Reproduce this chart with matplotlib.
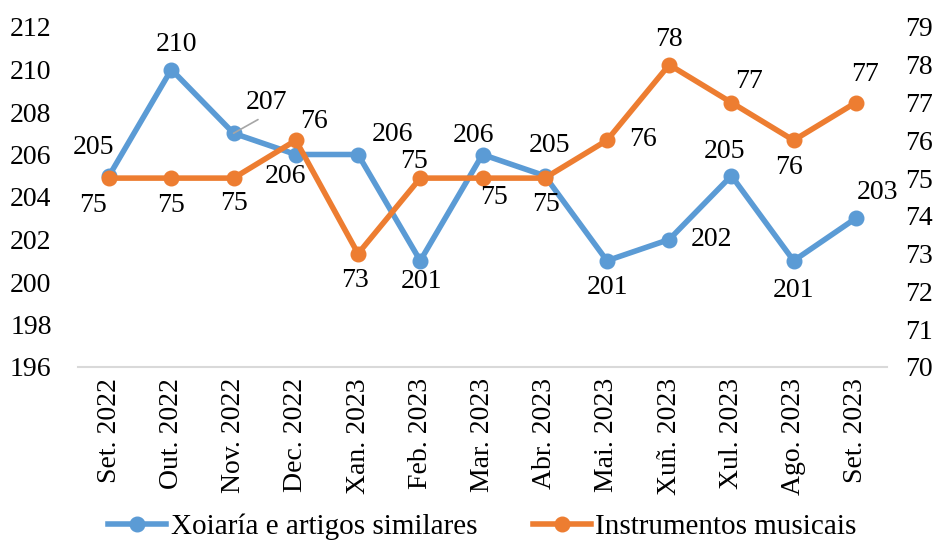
import matplotlib
matplotlib.use("Agg")
import matplotlib.pyplot as plt

plt.rcParams['font.family'] = ['Liberation Serif', 'DejaVu Serif']

months = ["Set. 2022", "Out. 2022", "Nov. 2022", "Dec. 2022", "Xan. 2023", "Feb. 2023",
          "Mar. 2023", "Abr. 2023", "Mai. 2023", "Xuñ. 2023", "Xul. 2023", "Ago. 2023",
          "Set. 2023"]
xoiaria = [205, 210, 207, 206, 206, 201, 206, 205, 201, 202, 205, 201, 203]
instrumentos = [75, 75, 75, 76, 73, 75, 75, 75, 76, 78, 77, 76, 77]

# label offsets in pixels (dx, dy), tuned by eye
off_x = [(-16, 28), (5, 25), (33, 31), (-10, -22), (34, 20), (1, -21), (-9, 19),
         (5, 30), (1, -27), (42, 0), (-7, 24), (0, -30), (22, 26)]
off_i = [(-16, -27), (0, -27), (0, -25), (18, 19), (-3, -27), (-6, 17), (11, -19),
         (1, -26), (36, 1), (0, 25), (18, 21), (-5, -27), (9, 28)]

blue = '#5B9BD5'
orange = '#ED7D31'
fs = 20

fig = plt.figure(figsize=(9.39, 5.54), dpi=100)
ax = fig.add_axes([78/939, 1 - 367/554, (887-78)/939, (367-27)/554])
ax2 = ax.twinx()

x = list(range(len(months)))
l1, = ax.plot(x, xoiaria, color=blue, lw=4, marker='o', ms=10.5, zorder=3,
              label='Xoiaría e artigos similares')
l2, = ax2.plot(x, instrumentos, color=orange, lw=4, marker='o', ms=10.5, zorder=3,
               label='Instrumentos musicais')

ax.set_xlim(-0.5, len(months) - 0.5)
ax.set_ylim(196, 212)
ax.set_yticks(range(196, 213, 2))
ax2.set_ylim(70, 79)
ax2.set_yticks(range(70, 80))

for a in (ax, ax2):
    for s in a.spines.values():
        s.set_visible(False)
ax.spines['bottom'].set_visible(True)
ax.spines['bottom'].set_color('#D9D9D9')
ax.spines['bottom'].set_linewidth(1.5)

ax.tick_params(axis='y', length=0, pad=19, labelsize=fs)
ax2.tick_params(axis='y', length=0, pad=13, labelsize=fs)
ax.set_xticks(x)
ax.set_xticklabels(months, rotation=90, fontsize=fs)
ax.tick_params(axis='x', length=0, pad=8)

for i, v in enumerate(xoiaria):
    if i == 2:
        ax.annotate(str(v), (i, v), xytext=off_x[i], textcoords='offset pixels',
                    ha='center', va='center', fontsize=fs,
                    arrowprops=dict(arrowstyle='-', color='#A6A6A6', lw=1.2,
                                    shrinkA=3, shrinkB=0, relpos=(0.5, 0.0)))
    else:
        ax.annotate(str(v), (i, v), xytext=off_x[i], textcoords='offset pixels',
                    ha='center', va='center', fontsize=fs)
for i, v in enumerate(instrumentos):
    ax2.annotate(str(v), (i, v), xytext=off_i[i], textcoords='offset pixels',
                 ha='center', va='center', fontsize=fs)

fig.legend(handles=[l1, l2], loc='center', bbox_to_anchor=(482.5/939, 1 - 527/554),
           ncol=2, frameon=False, fontsize=21, handlelength=2.0, handletextpad=0.15,
           columnspacing=1.9)

fig.savefig('out.png', dpi=100)
